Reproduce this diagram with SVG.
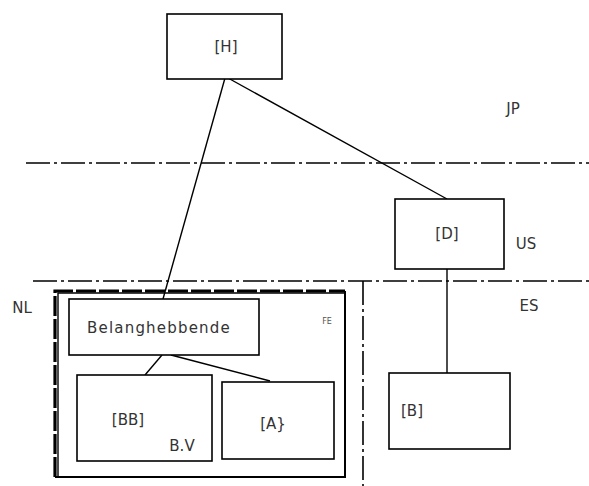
<svg xmlns="http://www.w3.org/2000/svg" width="589" height="486" viewBox="0 0 589 486">
<style>
.box{fill:#fff;stroke:#000;stroke-width:1.6}
.lbl{font-family:"DejaVu Sans","Liberation Sans",sans-serif;font-size:15px;fill:#333;text-anchor:middle}
.conn{stroke:#000;stroke-width:1.4;fill:none}
.border{stroke:#000;stroke-width:1.6;fill:none;stroke-dasharray:24 4 3 4}
</style>
<rect width="589" height="486" fill="#fff"/>
<g id="borders">
<line class="border" x1="26" y1="163" x2="589" y2="163"/>
<line class="border" x1="33" y1="281" x2="589" y2="281"/>
<line class="border" x1="363" y1="281" x2="363" y2="486"/>
</g>
<g id="region-labels">
<text class="lbl" x="513" y="114">JP</text>
<text class="lbl" x="526" y="249">US</text>
<text class="lbl" x="22" y="313">NL</text>
<text class="lbl" x="529" y="311">ES</text>
</g>
<g id="fe-group">
<path d="M58 293 H345 V477 H58 Z" fill="none" stroke="#000" stroke-width="1.4"/>
<path d="M55 477 V291 H345" fill="none" stroke="#000" stroke-width="3.2" stroke-dasharray="20 3"/>
<path d="M345 291 V477 H55" fill="none" stroke="#000" stroke-width="2"/>
<text x="327" y="324" font-family="DejaVu Sans, sans-serif" font-size="8" fill="#555" text-anchor="middle">FE</text>
</g>
<g id="connectors">
<line class="conn" x1="225" y1="78" x2="163" y2="299"/>
<line class="conn" x1="228" y1="78" x2="447" y2="199"/>
<line class="conn" x1="447" y1="269" x2="447" y2="373"/>
<line class="conn" x1="162" y1="355" x2="145" y2="375"/>
<line class="conn" x1="171" y1="355" x2="270" y2="381"/>
</g>
<g id="node-H">
<rect class="box" x="167" y="14" width="115" height="65"/>
<text class="lbl" x="226" y="52">[H]</text>
</g>
<g id="node-D">
<rect class="box" x="395" y="199" width="109" height="70"/>
<text class="lbl" x="447" y="239">[D]</text>
</g>
<g id="node-B">
<rect class="box" x="389" y="373" width="121" height="76"/>
<text class="lbl" x="412" y="416">[B]</text>
</g>
<g id="node-Belanghebbende">
<rect class="box" x="69" y="299" width="190" height="56"/>
<text class="lbl" x="159" y="333" letter-spacing="1.2">Belanghebbende</text>
</g>
<g id="node-BB">
<rect class="box" x="77" y="375" width="135" height="86"/>
<text class="lbl" x="128" y="425">[BB]</text>
<text class="lbl" x="182" y="451">B.V</text>
</g>
<g id="node-A">
<rect class="box" x="222" y="382" width="112" height="77"/>
<text class="lbl" x="273" y="429">[A}</text>
</g>
</svg>
